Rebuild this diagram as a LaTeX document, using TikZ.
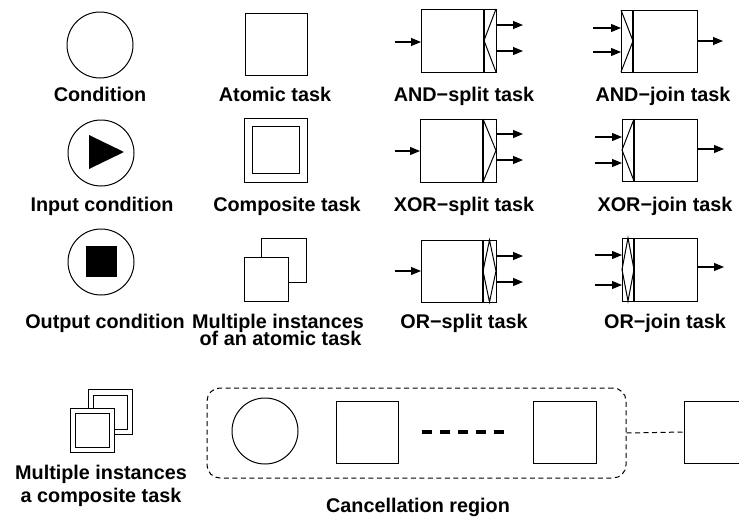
\documentclass[tikz,border=0pt]{standalone}
\usepackage{fontspec}
\setmainfont{Liberation Sans}
\usetikzlibrary{arrows.meta}
\begin{document}
\begin{tikzpicture}[x=1pt,y=-1pt,line width=1pt,
  lbl/.style={font=\fontsize{19.8}{22}\selectfont\bfseries,anchor=base,inner sep=0},
  cond/.style={draw,circle,minimum size=66pt,inner sep=0},
  rbox/.style 2 args={draw,rectangle,inner sep=0,outer sep=0,minimum width=#1,minimum height=#2},
  flow/.style={-{Triangle[length=10pt,width=8pt]},line width=1.1pt},
  divider/.style={line width=1.7pt},
  region/.style={draw,dash pattern=on 5pt off 3.5pt,rounded corners=13pt},
]
\useasboundingbox (0,0) rectangle (739,517);

% ---------- conditions ----------
\node[cond] (cond) at (100,45) {};
\node[lbl] (lcond) at (100,101) {Condition};

\node[cond] (incond) at (101,153) {};
\fill (89,135) -- (89,169) -- (124,152) -- cycle;
\node[lbl] (lincond) at (102,211) {Input condition};

\node[cond] (outcond) at (101,262) {};
\node[fill,rectangle,inner sep=0,minimum size=31pt] (outmark) at (101.5,261.5) {};
\node[lbl] (loutcond) at (105,328) {Output condition};

% ---------- atomic / composite tasks ----------
\node[rbox={62pt}{62pt}] (atomic) at (276,44) {};
\node[lbl] (latomic) at (275,101) {Atomic task};

\node[rbox={63pt}{64pt}] (comp) at (275.5,150) {};
\node[rbox={47pt}{47pt}] (compin) at (275.5,149.5) {};
\node[lbl] (lcomp) at (287,211) {Composite task};

\node[rbox={45pt}{44pt}] (mia-back) at (283.5,260) {};
\node[rbox={44pt}{44pt},fill=white] (mia-front) at (266,279) {};
\node[lbl] (lmia1) at (278,328) {Multiple instances};
\node[lbl] (lmia2) at (280.5,345) {of an atomic task};

% ---------- multiple instances of a composite task ----------
\node[rbox={44pt}{45pt}] (mic-back) at (110,411.5) {};
\node[rbox={34pt}{34pt}] (mic-backin) at (110,412) {};
\node[rbox={44pt}{44pt},fill=white] (mic-front) at (92,430) {};
\node[rbox={34pt}{34pt}] (mic-frontin) at (92,430) {};
\node[lbl] (lmic1) at (101,479) {Multiple instances};
\node[lbl] (lmic2) at (101,502) {a composite task};

% ---------- AND-split ----------
\node[rbox={63pt}{63pt}] (as) at (452.5,40.5) {};
\node[rbox={12pt}{63pt}] (as-s) at (490,40.5) {};
\draw[divider] (as-s.north west) -- (as-s.south west);
\draw (as-s.north east) -- (as-s.west) -- (as-s.south east);
\coordinate (as-i) at (395,42);
\coordinate (as-o1) at (523,25);
\coordinate (as-o2) at (523,51);
\draw[flow] (as-i) -- (as-i -| as.west);
\draw[flow] (as-o1 -| as-s.east) -- (as-o1);
\draw[flow] (as-o2 -| as-s.east) -- (as-o2);
\node[lbl] (las) at (464,101) {AND−split task};

% ---------- AND-join ----------
\node[rbox={12pt}{62pt}] (aj-s) at (627,41) {};
\node[rbox={64pt}{62pt}] (aj) at (665,41) {};
\draw[divider] (aj-s.north east) -- (aj-s.south east);
\draw (aj-s.north west) -- (aj-s.east) -- (aj-s.south west);
\coordinate (aj-i1) at (593,28);
\coordinate (aj-i2) at (593,52);
\coordinate (aj-o) at (723,41);
\draw[flow] (aj-i1) -- (aj-i1 -| aj-s.west);
\draw[flow] (aj-i2) -- (aj-i2 -| aj-s.west);
\draw[flow] (aj-o -| aj.east) -- (aj-o);
\node[lbl] (laj) at (663,101) {AND−join task};

% ---------- XOR-split ----------
\node[rbox={63pt}{63pt}] (xs) at (451.5,150.5) {};
\node[rbox={13pt}{63pt}] (xs-s) at (489.5,150.5) {};
\draw[divider] (xs-s.north west) -- (xs-s.south west);
\draw (xs-s.north west) -- (xs-s.east) -- (xs-s.south west);
\coordinate (xs-i) at (395,151);
\coordinate (xs-o1) at (523,134);
\coordinate (xs-o2) at (523,160);
\draw[flow] (xs-i) -- (xs-i -| xs.west);
\draw[flow] (xs-o1 -| xs-s.east) -- (xs-o1);
\draw[flow] (xs-o2 -| xs-s.east) -- (xs-o2);
\node[lbl] (lxs) at (464,211) {XOR−split task};

% ---------- XOR-join ----------
\node[rbox={12pt}{62pt}] (xj-s) at (628,150) {};
\node[rbox={63pt}{62pt}] (xj) at (665.5,150) {};
\draw[divider] (xj-s.north east) -- (xj-s.south east);
\draw (xj-s.north east) -- (xj-s.west) -- (xj-s.south east);
\coordinate (xj-i1) at (595,137);
\coordinate (xj-i2) at (595,163);
\coordinate (xj-o) at (724,149);
\draw[flow] (xj-i1) -- (xj-i1 -| xj-s.west);
\draw[flow] (xj-i2) -- (xj-i2 -| xj-s.west);
\draw[flow] (xj-o -| xj.east) -- (xj-o);
\node[lbl] (lxj) at (665,211) {XOR−join task};

% ---------- OR-split ----------
\node[rbox={62pt}{62pt}] (os) at (452,271) {};
\node[rbox={13pt}{62pt}] (os-s) at (489.5,271) {};
\draw[divider] (os-s.north west) -- (os-s.south west);
\draw (os-s.north) -- (os-s.west) -- (os-s.south) -- (os-s.east) -- cycle;
\coordinate (os-i) at (395,271);
\coordinate (os-o1) at (523,256);
\coordinate (os-o2) at (523,282);
\draw[flow] (os-i) -- (os-i -| os.west);
\draw[flow] (os-o1 -| os-s.east) -- (os-o1);
\draw[flow] (os-o2 -| os-s.east) -- (os-o2);
\node[lbl] (los) at (464,328) {OR−split task};

% ---------- OR-join ----------
\node[rbox={12pt}{63pt}] (oj-s) at (628,269.5) {};
\node[rbox={63pt}{63pt}] (oj) at (665.5,269.5) {};
\draw[divider] (oj-s.north east) -- (oj-s.south east);
\draw (oj-s.north) -- (oj-s.west) -- (oj-s.south) -- (oj-s.east) -- cycle;
\coordinate (oj-i1) at (595,255);
\coordinate (oj-i2) at (595,285);
\coordinate (oj-o) at (724,267);
\draw[flow] (oj-i1) -- (oj-i1 -| oj-s.west);
\draw[flow] (oj-i2) -- (oj-i2 -| oj-s.west);
\draw[flow] (oj-o -| oj.east) -- (oj-o);
\node[lbl] (loj) at (665,328) {OR−join task};

% ---------- cancellation region ----------
\node[region,rectangle,inner sep=0,minimum width=419pt,minimum height=90pt] (cancel) at (416.5,433) {};
\node[cond] (c-cond) at (265,431) {};
\node[rbox={62pt}{62pt}] (c-t1) at (367,432) {};
\node[rbox={63pt}{62pt}] (c-t2) at (564.5,432) {};
\coordinate (c-d1) at (422,432);
\coordinate (c-d2) at (504,432);
\draw[line width=3.5pt,dash pattern=on 10pt off 8pt] (c-d1) -- (c-d2);
\node[rbox={63pt}{62pt}] (c-t3) at (715.5,432) {};
\draw[dash pattern=on 5pt off 3.5pt] (cancel.east) -- (c-t3.west);
\node[lbl] (lcancel) at (418,512) {Cancellation region};
\end{tikzpicture}
\end{document}
